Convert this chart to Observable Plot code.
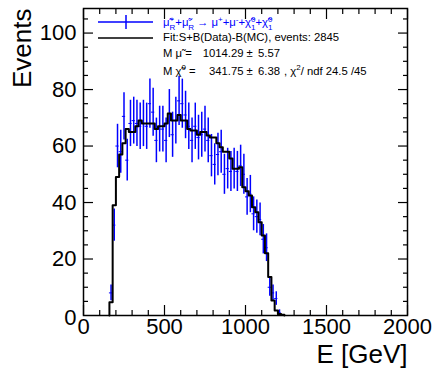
<!DOCTYPE html>
<html><head><meta charset="utf-8">
<script src="https://cdn.jsdelivr.net/npm/d3@7"></script>
<script src="https://cdn.jsdelivr.net/npm/@observablehq/plot@0.6"></script>
<style>body{margin:0;background:#fff} svg{display:block}</style>
</head><body><div id="chart"></div>
<script>
const binWidth = 20;
const binStart = [160,180,200,220,240,260,280,300,320,340,360,380,400,420,440,460,480,500,520,540,560,580,600,620,640,660,680,700,720,740,760,780,800,820,840,860,880,900,920,940,960,980,1000,1020,1040,1060,1080,1100,1120,1140,1160,1180,1200,1220];
const fitValues = [4.7,39,49,57,61,66,65,65,67,69,68,68,68,68,66,67,67,68,71.5,69,69,71,69,69,66,65.5,65.5,64,65,65,63.7,63,63,61,59.6,58,58,55.6,52,52,52.5,45.4,44,42.5,38.3,36.6,33,28.3,22,13.6,5.3,1.8,0.5,0.3];
const dataValues = [8,32,60,58,70.5,55,68,69,68,67,68,67,75,72,62,66,66,62,71.5,64,69,76,75,71,67,62,67,63,64,66,62,56.6,53.5,57,58,50,52,51,52,51,53,50,42,43,36,35,34,27,24,10,8,6,1,0];
const dataErrors = [2.8,5.7,7.7,7.6,8.4,7.4,8.2,8.3,8.2,8.2,8.2,8.2,8.7,8.5,7.9,8.1,8.1,7.9,8.5,8.0,8.3,8.7,8.7,8.4,8.2,7.9,8.2,7.9,8.0,8.1,7.9,7.5,7.3,7.5,7.6,7.1,7.2,7.1,7.2,7.1,7.3,7.1,6.5,6.6,6.0,5.9,5.8,5.2,4.9,3.2,2.8,2.4,1.0,0];
const xTicks = [0,500,1000,1500,2000];
const xMinor = [100,200,300,400,600,700,800,900,1100,1200,1300,1400,1600,1700,1800,1900];
const yTicks = [20,40,60,80,100];
const yMinor = [5,10,15,25,30,35,45,50,55,65,70,75,85,90,95,105];
const xLabel = "E [GeV]";
const yLabel = "Events";
const FONT = "Liberation Sans, Arial, Helvetica, sans-serif";
const BLUE = "#0000ff";

const fitRows = binStart.map((s, i) => ({x: s, y: fitValues[i]}));
const stepRows = [{x: binStart[0], y: 0}, ...fitRows, {x: binStart[binStart.length-1] + binWidth, y: 0}];
const dataRows = binStart.map((s, i) => ({x0: s, x1: s + binWidth, v: dataValues[i], e: dataErrors[i]})).filter(d => d.v > 0);
const plain = d => String(d);

const svg = Plot.plot({
  width: 435, height: 375,
  marginLeft: 83, marginRight: 28, marginTop: 8, marginBottom: 60,
  style: {fontFamily: FONT, background: "white", color: "black"},
  x: {domain: [0, 2000]},
  y: {domain: [0, 108.7]},
  marks: [
    Plot.ruleX(dataRows, {x: d => (d.x0 + d.x1) / 2, y1: d => d.v - d.e, y2: d => d.v + d.e, stroke: BLUE, strokeWidth: 1.5}),
    Plot.ruleY(dataRows, {y: "v", x1: "x0", x2: "x1", stroke: BLUE, strokeWidth: 1}),
    Plot.line(stepRows, {x: "x", y: "y", curve: "step-after", stroke: "black", strokeWidth: 2}),
    Plot.axisX({anchor: "bottom", ticks: xTicks, tickSize: -10, tickFormat: () => "", strokeWidth: 1.2}),
    Plot.axisX({anchor: "bottom", ticks: xMinor, tickSize: -5, tickFormat: () => "", strokeWidth: 1.2}),
    Plot.axisX({anchor: "top", ticks: xTicks, tickSize: -10, tickFormat: () => "", strokeWidth: 1.2}),
    Plot.axisX({anchor: "top", ticks: xMinor, tickSize: -5, tickFormat: () => "", strokeWidth: 1.2}),
    Plot.axisX({anchor: "bottom", ticks: xTicks, tickSize: 0, tickPadding: 3, fontSize: 22, tickFormat: plain, label: null}),
    Plot.axisY({anchor: "left", ticks: yTicks, tickSize: -10, tickFormat: () => "", strokeWidth: 1.2}),
    Plot.axisY({anchor: "left", ticks: yMinor, tickSize: -5, tickFormat: () => "", strokeWidth: 1.2}),
    Plot.axisY({anchor: "right", ticks: yTicks, tickSize: -10, tickFormat: () => "", strokeWidth: 1.2}),
    Plot.axisY({anchor: "right", ticks: yMinor, tickSize: -5, tickFormat: () => "", strokeWidth: 1.2}),
    Plot.axisY({anchor: "left", ticks: yTicks, tickSize: 0, tickPadding: 7, fontSize: 22, tickFormat: plain, label: null}),
    Plot.axisY({anchor: "left", ticks: [0], tickSize: 0, tickPadding: 7, fontSize: 22, tickFormat: plain, label: null, dy: 2}),
    Plot.frame({stroke: "black", strokeWidth: 1.5}),
    Plot.text([xLabel], {frameAnchor: "bottom-right", dy: 39, fontSize: 26, textAnchor: "end", lineAnchor: "middle"}),
    Plot.text([yLabel], {frameAnchor: "top-left", dx: -61, fontSize: 26, rotate: -90, textAnchor: "end", lineAnchor: "middle"})
  ]
});
document.getElementById("chart").appendChild(svg);

// legend
const g = d3.select(svg).append("g").attr("font-family", FONT).attr("font-size", 11.3);
g.append("line").attr("x1", 98).attr("x2", 153).attr("y1", 22).attr("y2", 22).attr("stroke", BLUE).attr("stroke-width", 1.5);
g.append("line").attr("x1", 126).attr("x2", 126).attr("y1", 15).attr("y2", 29).attr("stroke", BLUE).attr("stroke-width", 1.5);
g.append("line").attr("x1", 98).attr("x2", 153).attr("y1", 38).attr("y2", 38).attr("stroke", "black").attr("stroke-width", 1.5);

function txt(x, y, anchor, fill, parts) {
  const t = g.append("text").attr("x", x).attr("y", y).attr("fill", fill).attr("text-anchor", anchor);
  for (const p of parts) {
    const s = t.append("tspan").text(p.t);
    if (p.dx != null) s.attr("dx", p.dx);
    if (p.dy != null) s.attr("dy", p.dy);
    if (p.fs != null) s.attr("font-size", p.fs);
  }
}
txt(163, 26, "start", BLUE, [
  {t: "\u03BC\u0303"}, {t: "+", dy: -4, fs: 8}, {t: "R", dx: -4.6, dy: 8, fs: 8},
  {t: "+\u03BC\u0303", dy: -4}, {t: "-", dy: -4, fs: 8}, {t: "R", dx: -3, dy: 8, fs: 8},
  {t: " \u2192 \u03BC", dy: -4}, {t: "+", dy: -4, fs: 8}, {t: "+\u03BC", dy: 4}, {t: "-", dy: -4, fs: 8},
  {t: "+\u03C7\u0303", dy: 4}, {t: "0", dy: -4, fs: 8}, {t: "1", dx: -4.4, dy: 8, fs: 8},
  {t: "+\u03C7\u0303", dy: -4}, {t: "0", dy: -4, fs: 8}, {t: "1", dx: -4.4, dy: 8, fs: 8}
]);
txt(163, 41, "start", "black", [{t: "Fit:S+B(Data)-B(MC), events: 2845"}]);
txt(163, 57, "start", "black", [{t: "M \u03BC\u0303 ="}]);
txt(243.5, 57, "end", "black", [{t: "1014.29"}]);
txt(246.5, 57, "start", "black", [{t: "\u00B1"}]);
txt(258, 57, "start", "black", [{t: "5.57"}]);
txt(163, 75, "start", "black", [{t: "M \u03C7\u0303"}, {t: "0", dy: -5, fs: 8}, {t: " =", dy: 5}]);
txt(243.5, 75, "end", "black", [{t: "341.75"}]);
txt(246.5, 75, "start", "black", [{t: "\u00B1"}]);
txt(258, 75, "start", "black", [{t: "6.38"}]);
txt(284, 75, "start", "black", [{t: ", \u03C7"}, {t: "2", dy: -5, fs: 8}, {t: "/ ndf 24.5 /45", dy: 5}]);
</script></body></html>
